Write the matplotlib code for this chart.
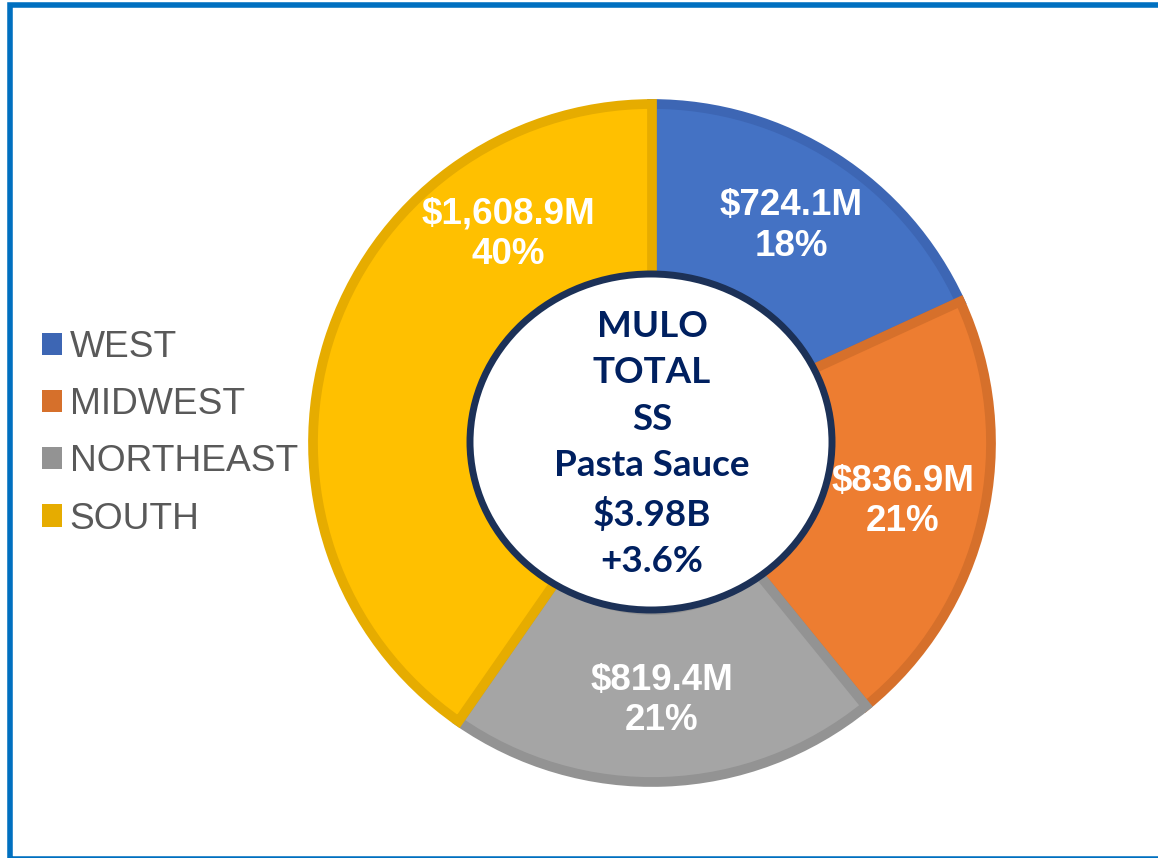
import matplotlib.pyplot as plt
from matplotlib.patches import Rectangle, Ellipse, Patch
import numpy as np

regions = ["WEST", "MIDWEST", "NORTHEAST", "SOUTH"]
sales_m = [724.1, 836.9, 819.4, 1608.9]
center_lines = ["MULO", "TOTAL", "SS", "Pasta Sauce", "$3.98B", "+3.6%"]

fills = ["#4472C4", "#ED7D31", "#A5A5A5", "#FFC000"]
edges = ["#3D66B4", "#D6702B", "#939393", "#E6AC00"]
navy = "#002060"

W, H = 1158, 858
fig = plt.figure(figsize=(W / 100, H / 100), dpi=100)
ax = fig.add_axes([0, 0, 1, 1])

cx, cy = 652, H - 443
R = 339
total = sum(sales_m)
pcts = [round(v / total * 100) for v in sales_m]
labels = [f"${v:,.1f}M\n{p}%" for v, p in zip(sales_m, pcts)]

wedges, texts = ax.pie(sales_m, center=(cx, cy), radius=R, startangle=90,
                       counterclock=False, colors=fills, labels=labels,
                       labeldistance=0.76,
                       wedgeprops=dict(width=172, linewidth=7, joinstyle="miter"),
                       textprops=dict(color="white", fontsize=26.5, fontweight="bold",
                                      family="Liberation Sans", va="center",
                                      linespacing=1.2))
for w, ec in zip(wedges, edges):
    w.set_edgecolor(ec)
for t in texts:
    t.set_horizontalalignment("center")

# pie() resets the limits, so set them afterwards
ax.set_xlim(0, W)
ax.set_ylim(0, H)
ax.set_aspect("equal")
ax.axis("off")

# blue frame (right side runs off the picture)
ax.add_patch(Rectangle((10, -1), 1200, 854, fill=False, ec="#0070C0", lw=4))

# South label sits higher up in the wedge than its midpoint
ang = np.deg2rad(124.5)
texts[3].set_position((cx + 253 * np.cos(ang), cy + 253 * np.sin(ang)))

ax.add_patch(Ellipse((cx - 1, cy + 1), 362, 336, fc="white", ec="#1C3157", lw=5, zorder=5))
ax.text(cx, cy - 1, "\n".join(center_lines), ha="center", va="center", color=navy,
        fontsize=26.5, fontweight="bold", family="Lato", linespacing=1.5, zorder=6)

handles = [Patch(fc=c, ec="none") for c in edges]
ax.legend(handles, regions, loc="upper left", bbox_to_anchor=(27 / W, 1 - 315 / H),
          frameon=False, handlelength=0.55, handleheight=0.55,
          handletextpad=0.2, labelspacing=0.6, borderaxespad=0,
          prop=dict(family="Liberation Sans", size=26.7), labelcolor="#595959")

fig.savefig("out.png", dpi=100)
